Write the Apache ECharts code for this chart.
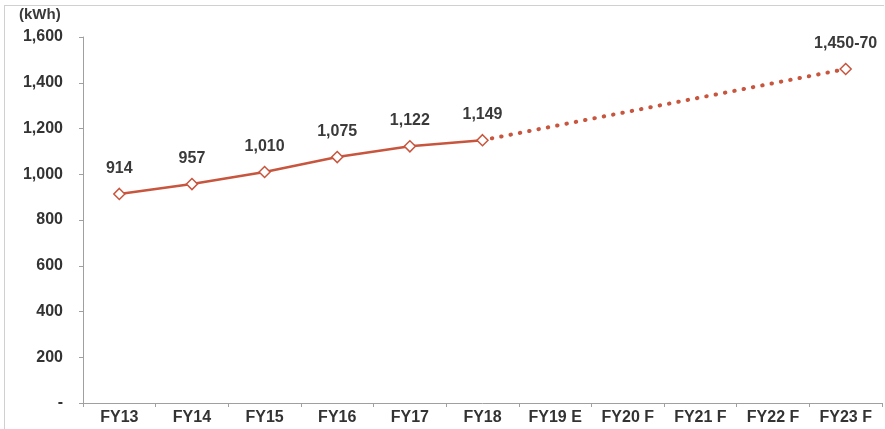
<!DOCTYPE html>
<html><head><meta charset="utf-8">
<script src="https://cdn.jsdelivr.net/npm/echarts@6/dist/echarts.min.js"></script>
<style>html,body{margin:0;padding:0;background:#fff}#c{width:885px;height:429px}
#f{position:absolute;left:4px;top:5px;width:880px;height:430px;border:1px solid #d0d0d0;border-right:none;border-bottom:none;box-sizing:border-box;pointer-events:none}</style>
</head><body><div id="c"></div><div id="f"></div>
<script>
var categories = ['FY13','FY14','FY15','FY16','FY17','FY18','FY19 E','FY20 F','FY21 F','FY22 F','FY23 F'];
var actual = [914, 957, 1010, 1075, 1122, 1149, null, null, null, null, null];
var forecast = [null, null, null, null, null, 1149, null, null, null, null, 1460];
var forecastPoint = [null, null, null, null, null, null, null, null, null, null, 1460];
var labelTexts = ['914','957','1,010','1,075','1,122','1,149','','','','','1,450-70'];
var yTicks = {0:'-',200:'200',400:'400',600:'600',800:'800',1000:'1,000',1200:'1,200',1400:'1,400',1600:'1,600'};
var red = '#C8553D';
var font = 'Liberation Sans, Arial';
var chart = echarts.init(document.getElementById('c'));
var lbl = {show:true,position:'top',distance:11,color:'#3a3a3a',fontFamily:font,fontWeight:'bold',fontSize:16,
  formatter:function(p){return labelTexts[p.dataIndex];}};
chart.setOption({
  animation:false,
  grid:{left:83,right:3,top:37,bottom:26},
  graphic:[{type:'text',left:19,top:7,style:{text:'(kWh)',font:'bold 15px "Liberation Sans", Arial',fill:'#3a3a3a'}}],
  xAxis:{type:'category',data:categories,boundaryGap:true,
    axisLine:{lineStyle:{color:'#a0a0a0',width:1}},
    axisTick:{show:true,alignWithLabel:false,length:4,lineStyle:{color:'#a0a0a0'}},
    axisLabel:{color:'#333',fontFamily:font,fontWeight:'bold',fontSize:16,margin:7,interval:0}},
  yAxis:{type:'value',min:0,max:1600,interval:200,
    axisLine:{show:true,lineStyle:{color:'#a0a0a0'}},
    axisTick:{show:true,length:4,lineStyle:{color:'#a0a0a0'}},
    splitLine:{show:false},
    axisLabel:{color:'#333',fontFamily:font,fontWeight:'bold',fontSize:16,margin:20,
      formatter:function(v){return yTicks[v]!==undefined?yTicks[v]:'';}}},
  series:[
    {type:'line',data:forecast,connectNulls:true,symbol:'none',z:1,
      lineStyle:{color:red,width:4,type:[0.5,9],cap:'round'}},
    {type:'line',data:actual,symbol:'diamond',symbolSize:11,z:3,
      lineStyle:{color:red,width:2.5},
      itemStyle:{color:'#fff',borderColor:red,borderWidth:1.5},
      label:lbl},
    {type:'line',data:forecastPoint,symbol:'diamond',symbolSize:11,z:3,
      lineStyle:{opacity:0},
      itemStyle:{color:'#fff',borderColor:red,borderWidth:1.5},
      label:lbl}
  ]
});
</script></body></html>
